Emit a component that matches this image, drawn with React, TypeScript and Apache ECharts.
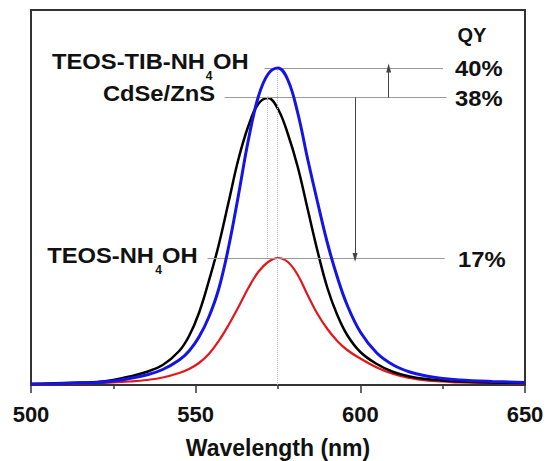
import React, { useEffect, useRef } from "react";
import * as echarts from "echarts";

const wavelengths = [500, 505, 510, 515, 520, 525, 530, 535, 540, 545, 548, 551, 554, 557, 560, 563, 566, 569, 572, 575, 578, 581, 584, 587, 590, 593, 596, 600, 605, 610, 615, 620, 625, 630, 640, 650];
const teosTibNh4oh = [1, 1, 1.5, 2, 2.5, 4, 6.5, 10, 15.5, 25, 34, 48, 68, 96, 138, 190, 245, 288, 311, 317, 305, 272, 226, 183, 142, 108, 80, 53, 32, 20, 13, 9, 6.5, 5, 3.5, 2.5];
const cdseZns = [1, 1.5, 2, 2.5, 3, 5, 8.5, 13, 20, 34, 49, 72, 104, 140, 183, 226, 259, 281, 287, 276, 251, 218, 176, 134, 97, 70, 50, 33, 21, 13, 8.5, 6, 4.5, 3.5, 2.5, 2];
const teosNh4oh = [0.5, 0.8, 1, 1.5, 2, 2.5, 3.5, 5, 7.5, 12, 16, 22, 31, 44, 60, 78, 97, 113, 123, 127, 123, 110, 90, 71, 56, 44, 35, 26.5, 17.5, 11, 7, 4.5, 3.5, 2.5, 2, 1.5];

const xTicks = { min: 500, max: 650, step: 50 };
const yRange = { min: 0, max: 375 };

// QY annotation levels (peak heights) and horizontal guide extents (nm)
const qyLabels = ["40%", "38%", "17%"];
const qyLevels = [317, 287.5, 126.7];
const qyLineStart = [570.9, 558.8, 553.6];
const qyLineEnd = [625.1, 626.2, 625.6];
// arrows: [x nm, from level, to level]
const arrowUp = [608.6, 287.5, 317];
const arrowDown = [598.4, 287.5, 127.5];
// dotted peak markers: [x nm, top, bottom]
const peakBlue = [574.8, 317, 0];
const peakBlack = [571.6, 287, 127];

const FONT = "'Liberation Sans', Arial, Helvetica, sans-serif";

export default function App() {
  const ref = useRef<HTMLDivElement>(null);
  useEffect(() => {
    if (!ref.current) return;
    const chart = echarts.init(ref.current, undefined, { renderer: "svg" });
    const toPairs = (arr: number[]) => wavelengths.map((w, i) => [w, arr[i]]);
    const txt = (text: string, x: number, y: number, align: string, size = 22, sx = 1.08) => ({
      type: "text",
      x,
      y,
      scaleX: sx,
      style: {
        text,
        fontFamily: FONT,
        fontWeight: "bold",
        fontSize: size,
        fill: "#111",
        textAlign: align,
        textVerticalAlign: "middle",
      },
    });
    const guideLines = qyLevels.map((lv, i) => [
      { coord: [qyLineStart[i], lv] },
      { coord: [qyLineEnd[i], lv] },
    ]);
    chart.setOption({
      animation: false,
      backgroundColor: "#fff",
      grid: {
        left: 31,
        right: 25,
        top: 10,
        bottom: 76,
        outerBoundsMode: "none",
        containLabel: false,
        show: true,
        borderColor: "#333",
        borderWidth: 2,
        backgroundColor: "transparent",
      },
      xAxis: {
        type: "value",
        min: xTicks.min,
        max: xTicks.max,
        interval: xTicks.step,
        axisLine: { show: true, lineStyle: { color: "#333", width: 2 } },
        axisTick: { show: true, length: 8, inside: false, lineStyle: { color: "#333", width: 1.5 } },
        minorTick: { show: true, splitNumber: 2, length: 4, lineStyle: { color: "#333", width: 1.5 } },
        splitLine: { show: false },
        minorSplitLine: { show: false },
        axisLabel: { fontFamily: FONT, fontWeight: "bold", fontSize: 22, color: "#111", margin: 18 },
        name: "Wavelength (nm)",
        nameLocation: "middle",
        nameGap: 51,
        nameTextStyle: { fontFamily: FONT, fontWeight: "bold", fontSize: 23, color: "#111" },
      },
      yAxis: {
        type: "value",
        min: yRange.min,
        max: yRange.max,
        axisLine: { show: false },
        axisTick: { show: false },
        axisLabel: { show: false },
        splitLine: { show: false },
      },
      series: [
        {
          type: "line",
          name: "TEOS-NH4OH",
          data: toPairs(teosNh4oh),
          smooth: 0.4,
          symbol: "none",
          lineStyle: { color: "#e3161d", width: 2.2 },
          z: 3,
          markLine: {
            silent: true,
            symbol: ["none", "none"],
            label: { show: false },
            lineStyle: { color: "#9a9a9a", width: 1.2, type: "solid" },
            data: [
              ...guideLines,
              [
                { coord: [peakBlue[0], peakBlue[1]], lineStyle: { color: "#b5b5b5", type: "dotted", width: 1 } },
                { coord: [peakBlue[0], peakBlue[2]] },
              ],
              [
                { coord: [peakBlack[0], peakBlack[1]], lineStyle: { color: "#b5b5b5", type: "dotted", width: 1 } },
                { coord: [peakBlack[0], peakBlack[2]] },
              ],
              [
                { coord: [arrowUp[0], arrowUp[1]], symbol: "none", lineStyle: { color: "#444", width: 1 } },
                { coord: [arrowUp[0], arrowUp[2]], symbol: "triangle", symbolSize: [5, 9] },
              ],
              [
                { coord: [arrowDown[0], arrowDown[1]], symbol: "none", lineStyle: { color: "#444", width: 1 } },
                { coord: [arrowDown[0], arrowDown[2]], symbol: "triangle", symbolSize: [5, 9] },
              ],
            ],
          },
        },
        {
          type: "line",
          name: "CdSe/ZnS",
          data: toPairs(cdseZns),
          smooth: 0.4,
          symbol: "none",
          lineStyle: { color: "#000", width: 2.5 },
          z: 4,
        },
        {
          type: "line",
          name: "TEOS-TIB-NH4OH",
          data: toPairs(teosTibNh4oh),
          smooth: 0.4,
          symbol: "none",
          lineStyle: { color: "#1414e6", width: 3 },
          z: 5,
        },
      ],
      graphic: [
        txt("TEOS-TIB-NH", 205, 61, "right"),
        txt("4", 209, 76, "center", 12, 1),
        txt("OH", 213, 61, "left"),
        txt("CdSe/ZnS", 215, 93, "right"),
        txt("TEOS-NH", 154, 255, "right"),
        txt("4", 158.5, 270, "center", 12, 1),
        txt("OH", 162, 255, "left"),
        txt("QY", 472, 35, "center", 20, 1),
        txt(qyLabels[0], 455, 68, "left"),
        txt(qyLabels[1], 455, 98, "left"),
        txt(qyLabels[2], 458, 259, "left"),
      ],
    });
    return () => chart.dispose();
  }, []);
  return (
    <div
      ref={ref}
      style={{ position: "absolute", left: 0, top: 0, width: 550, height: 461 }}
    />
  );
}
